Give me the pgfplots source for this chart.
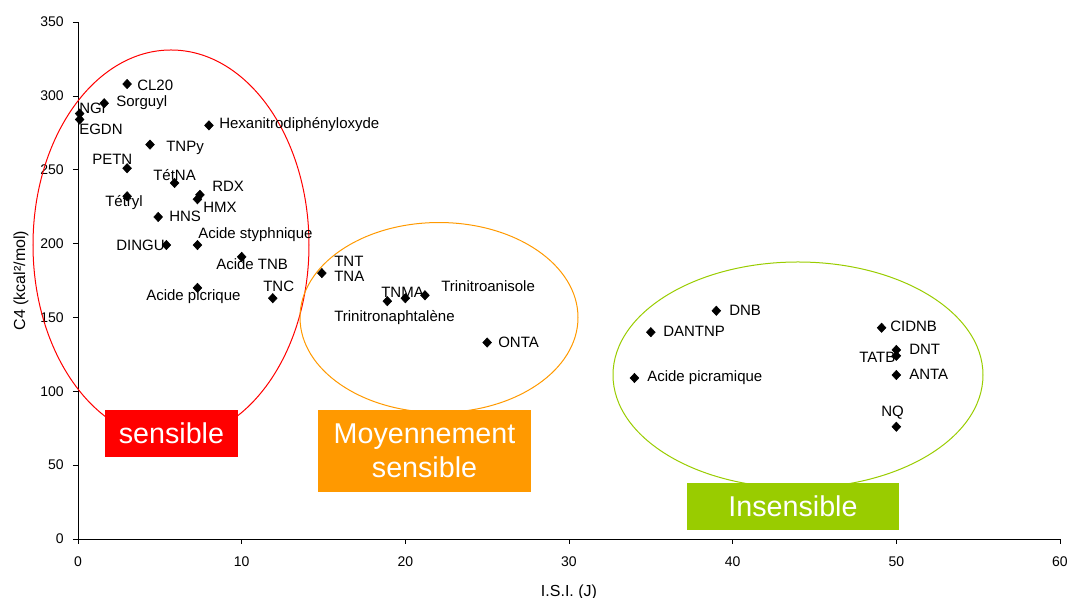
\documentclass[border=0pt]{standalone}
\usepackage{pgfplots}
\pgfplotsset{compat=1.18}
\usepackage{fontspec}
\setmainfont{Liberation Sans}
\definecolor{myred}{HTML}{FF0000}
\definecolor{myorange}{HTML}{FF9900}
\definecolor{mygreen}{HTML}{99CC00}
\begin{document}
\begin{tikzpicture}
\begin{axis}[
  scale only axis,
  width=736.5pt, height=387.75pt,
  xmin=0, xmax=60, ymin=0, ymax=350,
  axis x line*=bottom, axis y line*=left,
  xtick={0,10,...,60}, ytick={0,50,...,350},
  tick align=outside, major tick length=3.75pt,
  tick style={black, line width=0.5pt},
  axis line style={black, line width=0.6pt},
  /pgf/number format/assume math mode=true,
  ticklabel style={font=\fontsize{10.5}{12}\selectfont},
  xticklabel style={yshift=-6pt},
  yticklabel style={xshift=-3.5pt},
  xlabel={I.S.I. (J)}, ylabel={C4 (kcal²/mol)},
  label style={font=\fontsize{12}{14}\selectfont},
  xlabel style={at={(axis description cs:0.5,-0.1025)}, anchor=center},
  ylabel style={at={(axis description cs:-0.058,0.5)}, anchor=center},
  clip=false,
]
\addplot[only marks, mark=diamond*, mark size=3.5pt, mark options={xscale=1.25}, black] coordinates {
(3,308) (1.6,295) (0.1,288) (0.1,284) (8,280) (4.4,267) (3,251) (5.9,241)
(7.45,233) (7.3,230) (3,232) (4.9,218) (5.4,199) (7.3,199) (10,191)
(7.3,170) (11.9,163) (14.9,180) (18.9,161) (20,163) (21.2,165) (25,133)
(39,154.5) (35,140) (34,109) (49.1,143) (50,128) (50,124) (50,111) (50,76)
};
\end{axis}
% ellipses
\draw[myred, line width=0.75pt] (69.75pt,220.5pt) ellipse [x radius=103.5pt, y radius=146.25pt];
\draw[myorange, line width=0.75pt] (270.75pt,166.1pt) ellipse [x radius=104.25pt, y radius=71.25pt];
\draw[mygreen, line width=0.75pt] (540pt,123pt) ellipse [x radius=138.75pt, y radius=84.75pt];
% boxes
\fill[myred] (20.25pt,61.5pt) rectangle (120pt,96.75pt);
\node[white, font=\fontsize{21.5}{24}\selectfont] at (70.1pt,79.1pt) {sensible};
\fill[myorange] (180pt,35.25pt) rectangle (339.75pt,96.75pt);
\node[white, font=\fontsize{21.5}{25.5}\selectfont, align=center] at (259.9pt,66pt) {Moyennement\\sensible};
\fill[mygreen] (456.75pt,6.75pt) rectangle (615.75pt,42pt);
\node[white, font=\fontsize{21.5}{24}\selectfont] at (536.25pt,24.4pt) {Insensible};
% labels
\begin{scope}[every node/.style={anchor=west, inner sep=0pt, font=\fontsize{11.25}{13}\selectfont}]
\node at (44.25pt,340.5pt) {CL20};
\node at (28.5pt,327pt) {Sorguyl};
\node at (0.75pt,323.25pt) {NGl};
\node at (0.75pt,307.5pt) {EGDN};
\node at (105.75pt,310.5pt) {Hexanitrodiphényloxyde};
\node at (66pt,293.25pt) {TNPy};
\node at (10.5pt,285pt) {PETN};
\node at (56.25pt,273pt) {TétNA};
\node at (100.5pt,264.75pt) {RDX};
\node at (93.75pt,249pt) {HMX};
\node at (20.25pt,252pt) {Tétryl};
\node at (68.25pt,242.25pt) {HNS};
\node at (28.5pt,220.5pt) {DINGU};
\node at (90pt,228pt) {Acide styphnique};
\node at (103.5pt,206.25pt) {Acide TNB};
\node at (51pt,181.5pt) {Acide picrique};
\node at (138.75pt,189.75pt) {TNC};
\node at (192pt,208.5pt) {TNT};
\node at (192pt,197.25pt) {TNA};
\node at (227.25pt,185.25pt) {TNMA};
\node at (272.25pt,189.75pt) {Trinitroanisole};
\node at (192pt,165.75pt) {Trinitronaphtalène};
\node at (315pt,147.75pt) {ONTA};
\node at (488.25pt,171.75pt) {DNB};
\node at (438.75pt,156pt) {DANTNP};
\node at (426.75pt,120.75pt) {Acide picramique};
\node at (609pt,159.75pt) {CIDNB};
\node at (623.25pt,142.5pt) {DNT};
\node at (585.75pt,136.5pt) {TATB};
\node at (623.25pt,123.75pt) {ANTA};
\node at (602.25pt,94.5pt) {NQ};
\end{scope}
\pgfresetboundingbox
\useasboundingbox (-58.5pt,-44.25pt) rectangle (745.5pt,404.25pt);
\end{tikzpicture}
\end{document}
